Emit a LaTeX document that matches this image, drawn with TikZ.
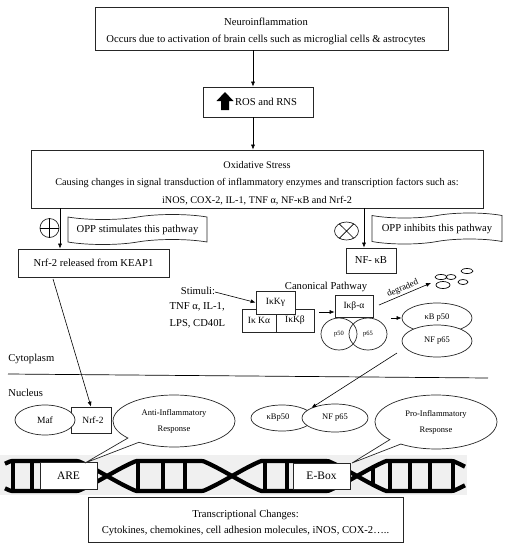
\documentclass[tikz,border=0pt]{standalone}
\usepackage{fontspec}
\setmainfont{Liberation Serif}
\usetikzlibrary{shapes.geometric,shapes.symbols,shapes.callouts,arrows.meta}
\begin{document}
\begin{tikzpicture}[x=1pt,y=-1pt,
  line width=0.7pt,
  box/.style={draw=black!85, fill=white, inner sep=0pt, align=center},
  oval/.style={draw=black!85, fill=white, ellipse, inner sep=0pt},
  banner/.style={draw=black!85, tape, tape bend height=5pt, inner sep=0pt},
  arr/.style={-{Latex[length=5pt,width=4pt]}, line width=0.6pt},
  ftn/.style={font=\fontsize{10.6}{17}\selectfont},
  fbx/.style={font=\fontsize{9.5}{12}\selectfont},
  fsm/.style={font=\fontsize{8.5}{12}\selectfont},
  fxs/.style={font=\fontsize{6.5}{8}\selectfont},
  strand/.style={line width=4.2pt},
  rung/.style={line width=4.5pt},
]
\useasboundingbox (0,0) rectangle (507,550);

% top chain
\node[box, minimum width=353, minimum height=43] (neuro) at (271.5,28.5) {};
\node[ftn, align=center] (neurotxt) at (266,31.5)
  {Neuroinflammation\\Occurs due to activation of brain cells such as microglial cells \& astrocytes};
\node[box, ftn, minimum width=110, minimum height=30] (ros) at (258,102)
  {\hspace*{16pt}ROS and RNS};
\fill (221,110) -- (221,101) -- (216.5,101) -- (225,92) -- (233.5,101) -- (229,101) -- (229,110) -- cycle;
\node[box, minimum width=452, minimum height=58] (ox) at (257,179) {};
\node[align=center, font=\fontsize{10.2}{17.5}\selectfont] (oxtxt) at (257,183)
  {Oxidative Stress\\Causing changes in signal transduction of inflammatory enzymes and transcription factors such as:\\iNOS, COX-2, IL-1, TNF α, NF-κB and Nrf-2};
\coordinate (cx) at (253,0);
\draw[arr] (neuro.south -| cx) -- (ros.north -| cx);
\draw[arr] (ros.south -| cx) -- (ox.north -| cx);

% branches
\node[banner, ftn, minimum width=139, minimum height=30] (stim) at (137.5,229.5) {OPP stimulates this pathway};
\node[banner, ftn, minimum width=130, minimum height=31] (inhib) at (437,228.5) {OPP inhibits this pathway};
\node[draw=black!85, circle, minimum size=19, inner sep=0pt] (plus) at (49.5,228) {};
\draw (plus.north) -- (plus.south) (plus.west) -- (plus.east);
\node[draw=black!85, ellipse, minimum width=24, minimum height=18, inner sep=0pt] (times) at (346.5,231) {};
\draw (times.45) -- (times.225) (times.135) -- (times.315);
\node[box, ftn, minimum width=151, minimum height=28] (nrfrel) at (93.5,263) {Nrf-2 released from KEAP1};
\node[box, ftn, minimum width=50, minimum height=25] (nfkb) at (371,260.5) {NF- κB};
\coordinate (lx) at (60,0);
\coordinate (rx) at (364,0);
\draw[arr] (ox.south -| lx) -- (nrfrel.north -| lx);
\draw[arr] (ox.south -| rx) -- (nfkb.north -| rx);

% canonical pathway
\node[ftn] (canon) at (326,287) {Canonical Pathway};
\node[ftn] (stimuli) at (198,291) {Stimuli:};
\node[ftn, align=left, anchor=west] (stimlist) at (166,315.5) {TNF α, IL-1,\\LPS, CD40L};
\node[box, fbx, minimum width=34, minimum height=23] (ika) at (259,320.5) {Iκ Kα};
\node[box, fbx, minimum width=38, minimum height=23] (ikb) at (295,320.5) {IκKβ};
\node[box, fbx, minimum width=39, minimum height=23] (ikg) at (275.5,302.5) {IκKγ};
\node[box, fbx, minimum width=38, minimum height=22] (ikba) at (354,306) {Iκβ-α};
\node[draw=black!85, ellipse, minimum width=36, minimum height=32, inner sep=0pt, fxs] (p50) at (339,334) {p50};
\node[draw=black!85, ellipse, minimum width=38, minimum height=32, inner sep=0pt, fxs] (p65) at (368,334) {p65};
\node[oval, fsm, minimum width=70, minimum height=30] (kbc) at (437,318) {κB p50};
\node[oval, fsm, minimum width=70, minimum height=32] (nfc) at (437,341) {NF p65};
\coordinate (stimend) at (215,292);
\draw[arr] (stimend) -- (ikg.west);
\coordinate (a1) at (319,312);
\draw[arr] (a1) -- (ikba.west |- a1);
\coordinate (degtip) at (431,283);
\coordinate (d1) at (379,305);
\draw[arr] (d1) -- (degtip) node[midway, above, sloped, font=\fontsize{9}{10}\selectfont, inner sep=1.5pt] {degraded};
\draw (441,277) ellipse [x radius=6, y radius=2.5];
\draw (451,277) ellipse [x radius=5, y radius=2.5];
\draw (443,285) ellipse [x radius=7, y radius=3.5];
\draw (463,282) ellipse [x radius=5, y radius=2.5];
\draw (467,271) ellipse [x radius=6, y radius=2.5];
\coordinate (p65e) at (391,318);
\draw[arr] (p65e) -- (kbc.west);

% compartments
\node[ftn, anchor=west, inner sep=0pt] (cyto) at (8,359) {Cytoplasm};
\coordinate (mL) at (8,374);
\coordinate (mR) at (488,378);
\draw (mL) -- (mR);
\node[ftn, anchor=west, inner sep=0pt] (nucl) at (8,393) {Nucleus};

% nucleus
\node[box, fbx, minimum width=40, minimum height=26] (nrfn) at (91,420) {\hspace*{4pt}Nrf-2};
\node[oval, fbx, minimum width=60, minimum height=30] (maf) at (45,420) {Maf};
\node[oval, fsm, minimum width=62, minimum height=26] (kbn) at (282,418) {\hspace*{-8pt}κBp50};
\node[oval, fsm, minimum width=66, minimum height=28] (nfn) at (335,418) {NF p65};
\coordinate (s1) at (53,279);
\draw[arr] (s1) -- (nrfn.north);
\coordinate (s2) at (397,353);
\draw[arr] (s2) -- (nfn.north west);

% DNA
\fill[black!6] (0,455) rectangle (467,495);
\draw[strand] plot[domain=5:465, samples=200] (\x, {476 - 15*max(-1,min(1,1.5*sin(1.44*(\x-107))))});
\draw[strand] plot[domain=5:465, samples=200] (\x, {476 + 15*max(-1,min(1,1.5*sin(1.44*(\x-107))))});
\foreach \r in {13,32,138,163,185,265,287,373,390,410,430,453} {
  \pgfmathsetmacro\hh{15*abs(max(-1,min(1,1.5*sin(1.44*(\r-107)))))}
  \draw[rung] (\r,{476-\hh}) -- (\r,{476+\hh});
}
\node[box, font=\fontsize{11.5}{13}\selectfont, minimum width=57, minimum height=27] (are) at (68.5,475.5) {ARE};
\node[box, font=\fontsize{11.5}{13}\selectfont, minimum width=57, minimum height=26] (ebox) at (321.5,476) {E-Box};
\coordinate (aretip) at (85,463);
\coordinate (eboxtip) at (352,463);
\node[ellipse callout, draw=black!85, fill=white, fsm, align=center, inner sep=0pt,
      minimum width=122, minimum height=52, callout pointer arc=14,
      callout absolute pointer={(aretip)}] (anti) at (174,421) {Anti-Inflammatory\\[4pt]Response};
\node[ellipse callout, draw=black!85, fill=white, fsm, align=center, inner sep=0pt,
      minimum width=122, minimum height=54, callout pointer arc=14,
      callout absolute pointer={(eboxtip)}] (pro) at (436,422) {Pro-Inflammatory\\[4pt]Response};

% transcriptional changes
\node[box, minimum width=315, minimum height=45] (trans) at (245.5,519.5) {};
\node[align=center, font=\fontsize{10.6}{16}\selectfont] (transtxt) at (245.5,522.5)
  {Transcriptional Changes:\\Cytokines, chemokines, cell adhesion molecules, iNOS, COX-2…..};
\end{tikzpicture}
\end{document}
